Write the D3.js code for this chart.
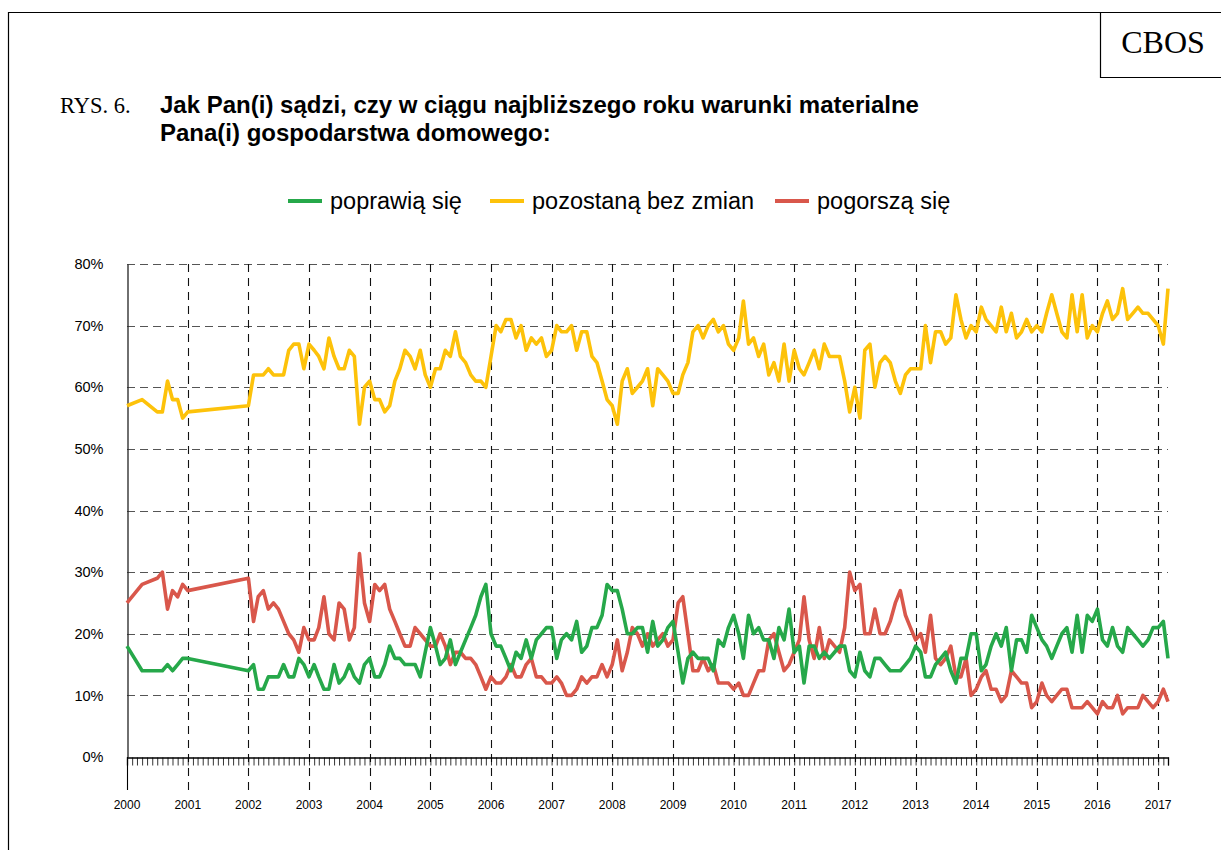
<!DOCTYPE html>
<html>
  <head>
    <meta charset="utf-8" />
    <title>CBOS rys. 6</title>
    <script src="https://cdn.jsdelivr.net/npm/d3@7"></script>
    <style type="text/css">
      body { margin: 0; background: #fff; }
      svg { display: block; }
    </style>
  </head>

  <body>
    <svg id="chart" width="1221" height="850"></svg>
    <script type="text/javascript">
      // dates: 2000 sparse, then monthly 2002-01 .. 2017-03
      var earlyMonths = ['2000-01', '2000-04', '2000-07', '2000-08', '2000-09', '2000-10', '2000-11', '2000-12', '2001-01'];
      var monthlyStart = '2002-01';
      var monthlyEnd = '2017-03';

      var yearLabels = ['2000', '2001', '2002', '2003', '2004', '2005', '2006', '2007', '2008',
        '2009', '2010', '2011', '2012', '2013', '2014', '2015', '2016', '2017'];
      var yTicks = [0, 10, 20, 30, 40, 50, 60, 70, 80];

      var seriesNames = ['poprawią się', 'pozostaną bez zmian', 'pogorszą się'];
      var seriesColors = ['#26a84a', '#fdc20a', '#d9574b'];

      // poprawią się
      var better = [18, 14, 14, 14, 15, 14, 15, 16, 16,
        14, 15, 11, 11, 13, 13, 13, 15, 13, 13, 16, 15,
        13, 15, 13, 11, 11, 15, 12, 13, 15, 13, 12, 15,
        16, 13, 13, 15, 18, 16, 16, 15, 15, 15, 13, 17,
        21, 18, 15, 16, 19, 15, 17, 19, 21, 23, 26, 28,
        20, 18, 18, 16, 14, 17, 16, 19, 16, 19, 20, 21,
        21, 16, 19, 20, 19, 22, 17, 18, 21, 21, 23, 28,
        27, 27, 24, 20, 20, 21, 21, 17, 22, 18, 19, 21,
        22, 17, 12, 16, 17, 16, 16, 16, 14, 19, 18, 21,
        23, 20, 16, 23, 20, 21, 19, 19, 16, 21, 19, 24,
        17, 18, 12, 18, 18, 16, 17, 16, 17, 18, 18, 14,
        13, 17, 14, 13, 16, 16, 15, 14, 14, 14, 15, 16,
        18, 17, 13, 13, 15, 16, 17, 14, 12, 16, 16, 20,
        20, 14, 15, 18, 20, 18, 21, 14, 19, 19, 17, 23,
        21, 19, 18, 16, 18, 20, 21, 17, 23, 17, 23, 22,
        24, 19, 18, 21, 18, 17, 21, 20, 19, 18, 19, 21,
        21, 22, 16];

      // pozostaną bez zmian
      var same = [57, 58, 56, 56, 61, 58, 58, 55, 56,
        57, 62, 62, 62, 63, 62, 62, 62, 66, 67, 67, 63,
        67, 66, 65, 63, 68, 65, 63, 63, 66, 65, 54, 60,
        61, 58, 58, 56, 57, 61, 63, 66, 65, 63, 66, 62,
        60, 63, 63, 66, 65, 69, 65, 64, 62, 61, 61, 60,
        65, 70, 69, 71, 71, 68, 70, 66, 68, 67, 68, 65,
        66, 70, 69, 69, 70, 66, 69, 69, 65, 64, 61, 58,
        57, 54, 61, 63, 59, 60, 61, 63, 57, 63, 62, 61,
        59, 59, 62, 64, 69, 70, 68, 70, 71, 69, 70, 67,
        66, 68, 74, 67, 68, 65, 67, 62, 64, 61, 67, 61,
        66, 63, 62, 64, 66, 63, 67, 65, 65, 65, 61, 56,
        60, 55, 66, 67, 60, 64, 65, 64, 61, 59, 62, 63,
        63, 63, 70, 64, 69, 69, 67, 68, 75, 71, 68, 70,
        69, 73, 71, 70, 69, 73, 69, 72, 68, 69, 71, 69,
        70, 69, 72, 75, 72, 69, 68, 75, 69, 75, 68, 70,
        69, 72, 74, 71, 72, 76, 71, 72, 73, 72, 72, 71,
        70, 67, 76];

      // pogorszą się
      var worse = [25, 28, 29, 30, 24, 27, 26, 28, 27,
        29, 22, 26, 27, 24, 25, 24, 22, 20, 19, 17, 21,
        19, 19, 21, 26, 20, 19, 25, 24, 19, 21, 33, 25,
        22, 28, 27, 28, 24, 22, 20, 18, 18, 21, 20, 19,
        18, 18, 20, 18, 15, 17, 17, 16, 16, 15, 13, 11,
        13, 12, 12, 13, 15, 13, 13, 15, 16, 13, 13, 12,
        12, 13, 12, 10, 10, 11, 13, 12, 13, 13, 15, 13,
        15, 19, 14, 17, 21, 20, 18, 20, 18, 19, 20, 18,
        19, 25, 26, 20, 14, 14, 16, 14, 15, 12, 12, 12,
        11, 12, 10, 10, 12, 14, 14, 19, 20, 17, 14, 15,
        17, 19, 26, 19, 16, 21, 16, 19, 18, 17, 21, 30,
        27, 28, 20, 20, 24, 20, 20, 22, 25, 27, 23, 21,
        19, 20, 17, 23, 16, 15, 16, 18, 13, 13, 16, 10,
        11, 13, 14, 11, 11, 9, 10, 14, 13, 12, 12, 8,
        9, 12, 10, 9, 10, 11, 11, 8, 8, 8, 9, 8,
        7, 9, 8, 8, 10, 7, 8, 8, 8, 10, 9, 8,
        9, 11, 9];

      var parseMonth = d3.timeParse('%Y-%m');
      var dates = earlyMonths.map(parseMonth).concat(
        d3.timeMonth.range(parseMonth(monthlyStart), d3.timeMonth.offset(parseMonth(monthlyEnd), 1))
      );
      var seriesValues = [better, same, worse];

      var svg = d3.select('#chart');
      var font = '"Liberation Sans", Arial, sans-serif';
      var serif = '"Liberation Serif", "Times New Roman", serif';

      // frame + CBOS box
      svg.append('path')
        .attr('d', 'M8.5,850 L8.5,12.5 L1221,12.5')
        .attr('fill', 'none').attr('stroke', '#000').attr('stroke-width', 1.2);
      svg.append('path')
        .attr('d', 'M1100.5,12.5 L1100.5,77.5 L1221,77.5')
        .attr('fill', 'none').attr('stroke', '#000').attr('stroke-width', 1.2);
      svg.append('text').attr('x', 1163).attr('y', 53).attr('text-anchor', 'middle')
        .attr('font-family', serif).attr('font-size', 32).text('CBOS');

      // title
      svg.append('text').attr('x', 60).attr('y', 113)
        .attr('font-family', serif).attr('font-size', 22.5).text('RYS. 6.');
      svg.append('text').attr('x', 160).attr('y', 113)
        .attr('font-family', font).attr('font-size', 24).attr('font-weight', 'bold')
        .text('Jak Pan(i) sądzi, czy w ciągu najbliższego roku warunki materialne');
      svg.append('text').attr('x', 160).attr('y', 141)
        .attr('font-family', font).attr('font-size', 24).attr('font-weight', 'bold')
        .text('Pana(i) gospodarstwa domowego:');

      // legend
      var legendX = [288, 490, 775];
      var legend = svg.append('g').attr('font-family', font).attr('font-size', 23.5);
      seriesNames.forEach(function (name, i) {
        legend.append('line')
          .attr('x1', legendX[i]).attr('x2', legendX[i] + 34)
          .attr('y1', 201).attr('y2', 201)
          .attr('stroke', seriesColors[i]).attr('stroke-width', 4);
        legend.append('text')
          .attr('x', legendX[i] + 42).attr('y', 209).text(name);
      });

      // scales
      var scX = d3.scaleTime()
        .domain([parseMonth('2000-01'), parseMonth(monthlyEnd)])
        .range([127, 1168]);
      var scY = d3.scaleLinear().domain([0, 80]).range([757, 264]);

      // horizontal grid
      svg.append('g').selectAll('line')
        .data(yTicks.slice(1))
        .enter().append('line')
        .attr('x1', 127).attr('x2', 1168)
        .attr('y1', (d) => Math.round(scY(d)) + 0.5).attr('y2', (d) => Math.round(scY(d)) + 0.5)
        .attr('stroke', '#555').attr('stroke-width', 1.2).attr('stroke-dasharray', '8,5');

      // vertical grid at each year
      svg.append('g').selectAll('line')
        .data(yearLabels.slice(1))
        .enter().append('line')
        .attr('x1', (d) => Math.round(scX(parseMonth(d + '-01'))) + 0.5)
        .attr('x2', (d) => Math.round(scX(parseMonth(d + '-01'))) + 0.5)
        .attr('y1', 264).attr('y2', 790)
        .attr('stroke', '#111').attr('stroke-width', 1.1).attr('stroke-dasharray', '8,6');

      // y axis
      var yAxis = d3.axisLeft(scY).tickValues(yTicks).tickSize(0).tickPadding(24)
        .tickFormat((d) => d + '%');
      svg.append('g').attr('transform', 'translate(127.5,0)').call(yAxis)
        .call((g) => g.select('.domain').attr('stroke', '#222').attr('stroke-width', 1.3))
        .selectAll('text').attr('font-family', font).attr('font-size', 14.5).attr('fill', '#000');

      // x axis: monthly ticks
      var xAxis = d3.axisBottom(scX)
        .ticks(d3.timeMonth.every(1))
        .tickSize(8).tickFormat('');
      svg.append('g').attr('transform', 'translate(0,757.5)').call(xAxis)
        .call((g) => g.select('.domain').attr('stroke', '#000').attr('stroke-width', 1.3))
        .selectAll('line').attr('stroke', '#000').attr('stroke-width', 0.8);

      svg.append('line').attr('x1', 127.5).attr('x2', 127.5).attr('y1', 757).attr('y2', 790)
        .attr('stroke', '#000').attr('stroke-width', 1.1);

      svg.append('g').selectAll('text')
        .data(yearLabels)
        .enter().append('text')
        .attr('x', (d) => scX(parseMonth(d + '-01')))
        .attr('y', 809)
        .attr('text-anchor', 'middle')
        .attr('font-family', font).attr('font-size', 12)
        .text((d) => d);

      // lines
      var lineMaker = d3.line()
        .x((d, i) => scX(dates[i]))
        .y((d) => scY(d))
        .curve(d3.curveLinear);

      var drawOrder = [1, 2, 0];
      drawOrder.forEach(function (k) {
        svg.append('path')
          .attr('fill', 'none')
          .attr('stroke', seriesColors[k])
          .attr('stroke-width', 3.6)
          .attr('stroke-linejoin', 'round')
          .attr('d', lineMaker(seriesValues[k]));
      });
    </script>
  </body>
</html>
